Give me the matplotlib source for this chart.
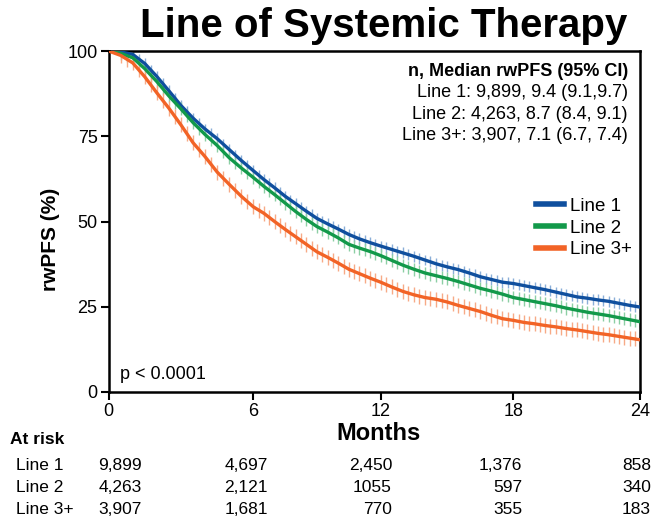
import numpy as np
import matplotlib
matplotlib.use("Agg")
from matplotlib import pyplot as plt

plt.rcParams["font.family"] = ["Liberation Sans", "DejaVu Sans"]

# Kaplan-Meier rwPFS (%) by line of systemic therapy, half-month grid
months = np.arange(0, 24.5, 0.5)
line1 = [100, 99.7, 99.0, 96.3, 92.5, 88.3, 84.0, 80.3, 77.1, 74.3, 71.1, 67.9,
         64.9, 62.3, 59.9, 57.4, 55.2, 53.0, 50.9, 49.3, 47.8, 46.2, 44.9, 43.8,
         42.8, 41.8, 40.8, 39.8, 38.7, 37.6, 36.7, 35.9, 34.9, 33.8, 33.0, 32.2,
         31.8, 31.2, 30.6, 30.0, 29.3, 28.6, 27.9, 27.5, 27.0, 26.6, 26.0, 25.4, 24.9]
line2 = [100, 99.3, 98.0, 94.8, 91.0, 86.8, 83.0, 79.0, 75.5, 72.3, 68.7, 65.7,
         62.9, 60.3, 57.9, 55.4, 52.9, 50.6, 48.5, 46.9, 45.2, 43.3, 42.2, 41.2,
         40.0, 38.6, 37.2, 36.0, 34.9, 34.1, 33.3, 32.4, 31.4, 30.4, 29.6, 28.7,
         27.7, 27.1, 26.5, 25.9, 25.3, 24.6, 24.0, 23.4, 22.9, 22.4, 21.8, 21.2, 20.6]
line3 = [100, 98.7, 96.5, 92.4, 87.7, 83.2, 78.3, 73.1, 69.0, 64.5, 60.9, 57.4,
         54.3, 52.4, 50.0, 47.7, 45.5, 43.3, 41.1, 39.5, 37.8, 36.0, 34.7, 33.4,
         32.2, 30.8, 29.5, 28.5, 27.7, 27.2, 26.4, 25.4, 24.5, 23.6, 22.5, 21.5,
         21.0, 20.4, 20.0, 19.5, 19.1, 18.6, 18.2, 17.7, 17.2, 16.8, 16.3, 15.8, 15.3]
ci_half = [1.6, 1.9, 2.2]

labels = ["Line 1", "Line 2", "Line 3+"]
colors = ["#0f4f9e", "#12994a", "#f26326"]
light = ["#8aaed8", "#8ccfa4", "#f7aa86"]

risk_times = [0, 6, 12, 18, 24]
at_risk = [
    ["9,899", "4,697", "2,450", "1,376", "858"],
    ["4,263", "2,121", "1055", "597", "340"],
    ["3,907", "1,681", "770", "355", "183"],
]
summary = [
    "Line 1: 9,899, 9.4 (9.1,9.7)",
    "Line 2: 4,263, 8.7 (8.4, 9.1)",
    "Line 3+: 3,907, 7.1 (6.7, 7.4)",
]

# month axis is drawn with uneven spacing between the 6-month ticks
tick_pos = np.array([0.0, 144.6, 272.0, 404.8, 531.5])
tick_mon = np.array([0.0, 6.0, 12.0, 18.0, 24.0])


def fwd(x):
    return np.interp(x, tick_mon, tick_pos)


def inv(p):
    return np.interp(p, tick_pos, tick_mon)


W, H = 655, 525
fig = plt.figure(figsize=(W / 100, H / 100), dpi=100)
ax = fig.add_axes([108.7 / W, 1 - 392 / H, 531.5 / W, 341 / H])
ax.set_xscale("function", functions=(fwd, inv))

for s, lab, c, lc, hw in zip([line1, line2, line3], labels, colors, light, ci_half):
    s = np.array(s)
    # confidence-interval hatching at each grid point and halfway between
    mid_t = (months[1:] + months[:-1]) / 2
    mid_s = (s[1:] + s[:-1]) / 2
    ht = np.concatenate([months[1:], mid_t[1:]])
    hs = np.concatenate([s[1:], mid_s[1:]])
    ax.vlines(ht, hs - hw, hs + hw, color=lc, lw=1.0, zorder=1)
    ax.plot(months, s, color=c, lw=2.4, label=lab, zorder=3)

ax.set_xlim(0, 24)
ax.set_ylim(0, 100)
ax.set_xticks(risk_times)
ax.set_yticks([0, 25, 50, 75, 100])
ax.tick_params(direction="out", length=6, width=1.5, labelsize=13, pad=2)
for sp in ax.spines.values():
    sp.set_linewidth(1.8)

leg = ax.legend(loc="upper right", bbox_to_anchor=(0.985, 0.57), frameon=False,
                fontsize=13.5, handlelength=1.5, handletextpad=0.35,
                labelspacing=0.25, borderpad=0, borderaxespad=0)
for h in leg.get_lines():
    h.set_linewidth(4)

ax.text(0.977, 0.965, "n, Median rwPFS (95% CI)", transform=ax.transAxes,
        ha="right", va="top", fontsize=13, fontweight="bold")
for i, txt in enumerate(summary):
    ax.text(0.977, 0.965 - 0.063 * (i + 1), txt, transform=ax.transAxes,
            ha="right", va="top", fontsize=13)
ax.text(0.022, 0.05, "p < 0.0001", transform=ax.transAxes, ha="left",
        va="center", fontsize=13)

fig.text(384 / W, 1 - 26 / H, "Line of Systemic Therapy", ha="center",
         va="center", fontsize=29, fontweight="bold")
fig.text(50 / W, 1 - 239 / H, "rwPFS (%)", rotation=90, ha="center",
         va="center", fontsize=15, fontweight="bold")
fig.text(379 / W, 1 - 433 / H, "Months", ha="center", va="center",
         fontsize=17, fontweight="bold")

# number-at-risk table
fig.text(10 / W, 1 - 440 / H, "At risk", ha="left", va="center",
         fontsize=12.5, fontweight="bold")
col_right = [142, 268, 392, 522, 651]
for r, (lab, row) in enumerate(zip(labels, at_risk)):
    y = 1 - (466 + 22 * r) / H
    fig.text(16 / W, y, lab, ha="left", va="center", fontsize=12.5)
    for xr, val in zip(col_right, row):
        fig.text(xr / W, y, val, ha="right", va="center", fontsize=12.5)

fig.savefig("out.png", dpi=100)
